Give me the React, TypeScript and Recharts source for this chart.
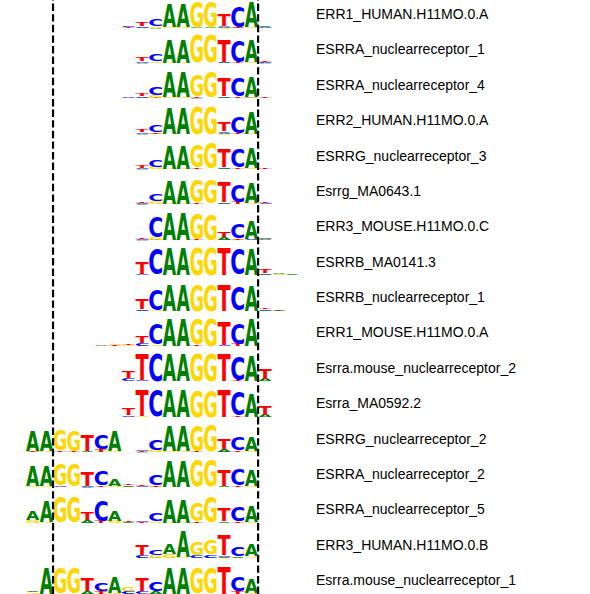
import React from 'react'
import { BarChart, Bar, XAxis, YAxis, ComposedChart, Line, ReferenceLine } from 'recharts'

// ── data: information content (bits) per position, columns are [A, C, G, T] ──

const LETTERS = ['A', 'C', 'G', 'T']
const POSITIONS = ['1', '2', '3', '4', '5', '6', '7', '8', '9', '10', '11', '12', '13', '14', '15', '16', '17', '18', '19', '20', '21']
const __ = [0, 0, 0, 0]

const MOTIF_NAMES = [
  'ERR1_HUMAN.H11MO.0.A',
  'ESRRA_nuclearreceptor_1',
  'ESRRA_nuclearreceptor_4',
  'ERR2_HUMAN.H11MO.0.A',
  'ESRRG_nuclearreceptor_3',
  'Esrrg_MA0643.1',
  'ERR3_MOUSE.H11MO.0.C',
  'ESRRB_MA0141.3',
  'ESRRB_nuclearreceptor_1',
  'ERR1_MOUSE.H11MO.0.A',
  'Esrra.mouse_nuclearreceptor_2',
  'Esrra_MA0592.2',
  'ESRRG_nuclearreceptor_2',
  'ESRRA_nuclearreceptor_2',
  'ESRRA_nuclearreceptor_5',
  'ERR3_HUMAN.H11MO.0.B',
  'Esrra.mouse_nuclearreceptor_1',
]

const ERR1_HUMAN_A = [
  __, __, __, __, __, __, __,
  [0.03, 0.07, 0.02, 0.05], [0.04, 0.1, 0.03, 0.3], [0.04, 0.45, 0.12, 0.02],
  [1.6, 0.02, 0.05, 0.02], [1.6, 0.02, 0.05, 0.02], [0.04, 0.02, 1.75, 0.02], [0.04, 0.02, 1.75, 0.02],
  [0.08, 0.06, 0.04, 0.8], [0.04, 1.4, 0.03, 0.05], [1.65, 0.02, 0.05, 0.02],
  [0.05, 0.04, 0.03, 0.02], [0.03, 0.02, 0.03, 0.02], [0.03, 0.02, 0.03, 0.02], [0.03, 0.02, 0.03, 0.02],
]
const ESRRA_NR_1 = [
  __, __, __, __, __, __, __,
  [0.02, 0.03, 0.02, 0.02], [0.04, 0.12, 0.02, 0.25], [0.03, 0.5, 0.12, 0.03],
  [1.63, 0.02, 0.04, 0.02], [1.63, 0.02, 0.04, 0.02], [0.03, 0.01, 1.9, 0.02], [0.03, 0.01, 1.9, 0.02],
  [0.06, 0.05, 0.03, 1.5], [0.03, 1.5, 0.02, 0.05], [1.55, 0.03, 0.05, 0.02],
  [0.04, 0.07, 0.02, 0.1], __, __, __,
]
const ESRRA_NR_4 = [
  __, __, __, __, __, __, __,
  [0.02, 0.04, 0.02, 0.02], [0.04, 0.1, 0.03, 0.2], [0.03, 0.55, 0.15, 0.04],
  [1.65, 0.02, 0.05, 0.02], [1.65, 0.02, 0.05, 0.02], [0.04, 0.02, 1.45, 0.08], [0.03, 0.02, 1.75, 0.03],
  [0.1, 0.05, 0.03, 1.25], [0.03, 1.25, 0.02, 0.12], [1.35, 0.04, 0.04, 0.02],
  [0.03, 0.02, 0.02, 0.1], __, __, __,
]
const ERR2_HUMAN_A = [
  __, __, __, __, __, __, __, __,
  [0.04, 0.1, 0.02, 0.2], [0.03, 0.48, 0.05, 0.08],
  [1.75, 0.01, 0.03, 0.01], [1.75, 0.01, 0.03, 0.01], [0.02, 0.01, 1.95, 0.01], [0.02, 0.01, 1.95, 0.01],
  [0.1, 0.08, 0.05, 0.6], [0.03, 1.15, 0.02, 0.08], [1.5, 0.02, 0.04, 0.02],
  __, __, __, __,
]
const ESRRG_NR_3 = [
  __, __, __, __, __, __, __, __,
  [0.04, 0.08, 0.02, 0.2], [0.03, 0.45, 0.15, 0.02],
  [1.6, 0.02, 0.04, 0.02], [1.6, 0.02, 0.04, 0.02], [0.03, 0.02, 1.6, 0.1], [0.03, 0.02, 1.75, 0.03],
  [0.1, 0.05, 0.03, 1.25], [0.03, 1.25, 0.02, 0.1], [1.3, 0.03, 0.05, 0.02],
  [0.02, 0.03, 0.02, 0.08], __, __, __,
]
const ESRRG_MA0643 = [
  __, __, __, __, __, __, __, __,
  [0.05, 0.08, 0.02, 0.12], [0.03, 0.5, 0.2, 0.02],
  [1.6, 0.02, 0.04, 0.02], [1.6, 0.02, 0.04, 0.02], [0.03, 0.02, 1.55, 0.1], [0.03, 0.02, 1.65, 0.03],
  [0.1, 0.04, 0.03, 1.3], [0.03, 1.2, 0.02, 0.15], [1.3, 0.03, 0.05, 0.02],
  [0.02, 0.06, 0.02, 0.08], __, __, __,
]
const ERR3_MOUSE_C = [
  __, __, __, __, __, __, __, __,
  [0.04, 0.06, 0.02, 0.08], [0.05, 1.4, 0.15, 0.03],
  [1.85, 0.01, 0.03, 0.01], [1.85, 0.01, 0.03, 0.01], [0.03, 0.01, 1.8, 0.05], [0.02, 0.01, 1.8, 0.02],
  [0.15, 0.05, 0.03, 0.35], [0.03, 1.0, 0.05, 0.1], [1.25, 0.05, 0.04, 0.02],
  [0.08, 0.12, 0.05, 0.02], __, __, __,
]
const ESRRB_MA0141 = [
  __, __, __, __, __, __, __, __,
  [0.03, 0.05, 0.02, 0.8], [0.02, 1.8, 0.02, 0.03],
  [1.88, 0.01, 0.02, 0.01], [1.88, 0.01, 0.02, 0.01], [0.01, 0.01, 1.9, 0.01], [0.01, 0.01, 1.9, 0.01],
  [0.02, 0.02, 0.01, 1.88], [0.02, 1.8, 0.01, 0.03], [1.8, 0.02, 0.02, 0.02],
  [0.12, 0.04, 0.03, 0.25], [0.08, 0.03, 0.05, 0.02], [0.05, 0.02, 0.03, 0.02], __,
]
const ESRRB_NR_1 = [
  __, __, __, __, __, __, __, __,
  [0.05, 0.1, 0.03, 0.7], [0.02, 1.4, 0.05, 0.03],
  [1.8, 0.01, 0.02, 0.01], [1.8, 0.01, 0.02, 0.01], [0.01, 0.01, 1.85, 0.01], [0.01, 0.01, 1.85, 0.01],
  [0.02, 0.02, 0.01, 1.8], [0.02, 1.7, 0.01, 0.03], [1.7, 0.02, 0.02, 0.02],
  [0.12, 0.05, 0.02, 0.12], [0.06, 0.02, 0.02, 0.04], [0.03, 0.02, 0.02, 0.02], __,
]
const ERR1_MOUSE_A = [
  __, __, __, __, __,
  [0.04, 0.02, 0.03, 0.02], [0.03, 0.02, 0.06, 0.04], [0.03, 0.03, 0.04, 0.05],
  [0.05, 0.2, 0.03, 0.4], [0.03, 1.35, 0.1, 0.02],
  [1.9, 0.01, 0.02, 0.01], [1.9, 0.01, 0.02, 0.01], [0.02, 0.01, 1.8, 0.1], [0.02, 0.01, 1.9, 0.02],
  [0.03, 0.1, 0.02, 1.6], [0.02, 1.35, 0.02, 0.15], [1.9, 0.01, 0.02, 0.01],
  __, __, __, __,
]
const ESRRA_MOUSE_NR_2 = [
  __, __, __, __, __, __, __,
  [0.03, 0.15, 0.05, 0.45], [0.02, 0.05, 0.02, 1.75], [0.02, 1.9, 0.01, 0.02],
  [1.85, 0.01, 0.03, 0.01], [1.85, 0.01, 0.03, 0.01], [0.01, 0.01, 1.9, 0.02], [0.01, 0.01, 1.9, 0.02],
  [0.02, 0.01, 0.01, 1.9], [0.02, 1.7, 0.01, 0.08], [1.7, 0.02, 0.03, 0.01],
  [0.15, 0.03, 0.02, 0.75], __, __, __,
]
const ESRRA_MA0592 = [
  __, __, __, __, __, __, __,
  [0.03, 0.1, 0.05, 0.4], [0.02, 0.03, 0.05, 1.75], [0.02, 1.85, 0.02, 0.02],
  [1.85, 0.01, 0.03, 0.01], [1.85, 0.01, 0.03, 0.01], [0.01, 0.01, 1.88, 0.02], [0.01, 0.01, 1.88, 0.02],
  [0.02, 0.01, 0.01, 1.85], [0.02, 1.65, 0.01, 0.1], [1.6, 0.02, 0.03, 0.01],
  [0.15, 0.03, 0.02, 0.65], __, __, __,
]
const ESRRG_NR_2 = [
  [1.3, 0.02, 0.05, 0.06], [1.35, 0.02, 0.05, 0.03], [0.03, 0.02, 1.35, 0.1], [0.03, 0.02, 1.4, 0.05],
  [0.05, 0.03, 0.02, 1.1], [0.03, 1.0, 0.05, 0.15], [1.35, 0.02, 0.05, 0.02],
  [0.03, 0.02, 0.02, 0.02], [0.04, 0.08, 0.02, 0.06], [0.03, 0.75, 0.15, 0.02],
  [1.65, 0.02, 0.05, 0.02], [1.65, 0.02, 0.05, 0.02], [0.03, 0.02, 1.8, 0.06], [0.03, 0.02, 1.85, 0.03],
  [0.15, 0.05, 0.03, 0.75], [0.03, 0.95, 0.02, 0.1], [1.0, 0.02, 0.1, 0.02],
  __, __, __, __,
]
const ESRRA_NR_2 = [
  [1.35, 0.02, 0.1, 0.02], [1.35, 0.02, 0.08, 0.02], [0.03, 0.08, 1.5, 0.03], [0.03, 0.03, 1.6, 0.03],
  [0.05, 0.05, 0.02, 0.95], [0.03, 1.05, 0.02, 0.1], [0.4, 0.02, 0.1, 0.03],
  [0.1, 0.02, 0.05, 0.1], [0.03, 0.05, 0.02, 0.08], [0.03, 0.75, 0.05, 0.12],
  [1.75, 0.02, 0.03, 0.02], [1.75, 0.02, 0.03, 0.02], [0.03, 0.02, 1.85, 0.03], [0.03, 0.02, 1.85, 0.03],
  [0.1, 0.03, 0.02, 1.05], [0.03, 1.1, 0.02, 0.12], [1.1, 0.02, 0.1, 0.02],
  __, __, __, __,
]
const ESRRA_NR_5 = [
  [0.65, 0.03, 0.2, 0.02], [1.45, 0.02, 0.05, 0.02], [0.03, 0.02, 1.75, 0.03], [0.03, 0.02, 1.75, 0.03],
  [0.2, 0.05, 0.03, 0.55], [0.03, 1.35, 0.02, 0.15], [0.75, 0.03, 0.15, 0.03],
  [0.05, 0.02, 0.02, 0.12], [0.03, 0.05, 0.02, 0.04], [0.03, 0.55, 0.1, 0.02],
  [1.6, 0.02, 0.04, 0.02], [1.6, 0.02, 0.04, 0.02], [0.03, 0.02, 1.3, 0.12], [0.03, 0.02, 1.75, 0.03],
  [0.12, 0.03, 0.02, 0.9], [0.03, 1.0, 0.02, 0.12], [1.05, 0.02, 0.05, 0.02],
  __, __, __, __,
]
const ERR3_HUMAN_B = [
  __, __, __, __, __, __, __, __,
  [0.05, 0.15, 0.03, 0.7], [0.05, 0.4, 0.15, 0.03],
  [0.7, 0.03, 0.25, 0.03], [1.75, 0.02, 0.05, 0.02], [0.05, 0.15, 0.9, 0.03], [0.05, 0.2, 1.05, 0.03],
  [0.1, 0.1, 0.05, 1.3], [0.1, 0.65, 0.05, 0.03], [0.8, 0.03, 0.1, 0.03],
  __, __, __, __,
]
const ESRRA_MOUSE_NR_1 = [
  [0.12, 0.02, 0.1, 0.05], [1.75, 0.02, 0.03, 0.02], [0.02, 0.02, 1.8, 0.02], [0.02, 0.02, 1.8, 0.02],
  [0.2, 0.03, 0.02, 0.85], [0.03, 0.55, 0.05, 0.2], [1.1, 0.02, 0.1, 0.02],
  [0.05, 0.15, 0.3, 0.03], [0.03, 0.2, 0.02, 0.85], [0.2, 0.65, 0.03, 0.02],
  [1.75, 0.02, 0.03, 0.02], [1.8, 0.02, 0.02, 0.02], [0.02, 0.02, 1.8, 0.02], [0.02, 0.02, 1.8, 0.02],
  [0.02, 0.02, 0.02, 1.85], [0.03, 1.0, 0.02, 0.2], [1.0, 0.02, 0.05, 0.02],
  __, __, __, __,
]

const MOTIFS = [
  ERR1_HUMAN_A, ESRRA_NR_1, ESRRA_NR_4, ERR2_HUMAN_A, ESRRG_NR_3, ESRRG_MA0643,
  ERR3_MOUSE_C, ESRRB_MA0141, ESRRB_NR_1, ERR1_MOUSE_A, ESRRA_MOUSE_NR_2, ESRRA_MA0592,
  ESRRG_NR_2, ESRRA_NR_2, ESRRA_NR_5, ERR3_HUMAN_B, ESRRA_MOUSE_NR_1,
]

// motif boundaries (between positions)
const BOUNDARIES = [1.5, 16.5]

// ── layout ──────────────────────────────────────────────────────────────

const W = 590
const H = 594
const LEFT = 25.7
const COL_W = 13.67
const RIGHT = W - LEFT - COL_W * POSITIONS.length
const PITCH = 35.375
const FIRST_BASE = 28.3
const Y_MAX = 2.4
const PX_PER_BIT = 14.5
const PLOT_H = Y_MAX * PX_PER_BIT
const ROW_H = 40

const COLORS: Record<string, string> = {
  A: '#008000',
  C: '#0000ff',
  G: '#ffd700',
  T: '#ff0000',
}

// ink box of DejaVu Sans Bold glyphs at font-size 100
const INK: Record<string, [number, number, number, number]> = {
  A: [1.0, 76.4, 0, 72.9],
  C: [4.6, 68.2, -1.4, 74.3],
  G: [4.6, 77.6, -1.4, 74.3],
  T: [0.3, 68.0, 0, 72.9],
}

function buildStack(motif: number[][]) {
  return POSITIONS.map((pos, i) => {
    const q = motif[i]
    const order = [0, 1, 2, 3].sort((a, b) => q[a] - q[b])
    const d: Record<string, string | number> = { pos }
    order.forEach((li, k) => {
      d[`h${k}`] = q[li]
      d[`l${k}`] = LETTERS[li]
    })
    return d
  })
}

function Glyph(props: any) {
  const { x, y, width, height, payload, slot } = props
  if (!height || height < 0.2) return <g />
  const letter = payload[`l${slot}`]
  const [x0, x1, yMin, yMax] = INK[letter]
  const sx = width / (x1 - x0)
  const sy = height / (yMax - yMin)
  const tx = x - x0 * sx
  const ty = y + yMax * sy
  return (
    <text
      transform={`translate(${tx},${ty}) scale(${sx},${sy})`}
      fontFamily="DejaVu Sans"
      fontWeight="bold"
      fontSize={100}
      fill={COLORS[letter]}
    >
      {letter}
    </text>
  )
}

function LogoRow({ motif, index }: { motif: number[][]; index: number }) {
  const top = FIRST_BASE + PITCH * index - PLOT_H
  return (
    <div style={{ position: 'absolute', left: 0, top, width: W, height: ROW_H }}>
      <BarChart
        width={W}
        height={ROW_H}
        data={buildStack(motif)}
        margin={{ top: 0, right: RIGHT, left: LEFT, bottom: ROW_H - PLOT_H }}
        barCategoryGap="4%"
      >
        <XAxis dataKey="pos" hide />
        <YAxis hide domain={[0, Y_MAX]} allowDataOverflow />
        {[0, 1, 2, 3].map((k) => (
          <Bar
            key={k}
            dataKey={`h${k}`}
            stackId="s"
            isAnimationActive={false}
            shape={(p: any) => <Glyph {...p} slot={k} />}
          />
        ))}
      </BarChart>
    </div>
  )
}

export default function App() {
  return (
    <div style={{ position: 'absolute', left: 0, top: 0, width: W, height: H, overflow: 'hidden', background: '#fff' }}>
      {MOTIFS.map((m, i) => (
        <LogoRow key={MOTIF_NAMES[i]} motif={m} index={i} />
      ))}
      <div style={{ position: 'absolute', left: 0, top: 0, pointerEvents: 'none' }}>
        <ComposedChart
          width={W}
          height={H}
          data={POSITIONS.map((p, i) => ({ x: i, y: 0 }))}
          margin={{ top: 0, right: RIGHT, left: LEFT, bottom: 0 }}
        >
          <XAxis dataKey="x" type="number" domain={[-0.5, POSITIONS.length - 0.5]} hide />
          <YAxis hide domain={[0, 1]} />
          <Line dataKey="y" stroke="none" dot={false} activeDot={false} isAnimationActive={false} />
          {BOUNDARIES.map((b) => (
            <ReferenceLine key={b} x={b} stroke="#000" strokeWidth={2.2} strokeDasharray="7.4 3.2" />
          ))}
        </ComposedChart>
      </div>
      {MOTIF_NAMES.map((name, i) => (
        <div
          key={name}
          style={{
            position: 'absolute',
            left: 316,
            top: 14 + PITCH * i - 8,
            lineHeight: '16px',
            fontSize: 14,
            fontFamily: '"Liberation Sans", Arial, sans-serif',
            color: '#000',
            whiteSpace: 'nowrap',
          }}
        >
          {name}
        </div>
      ))}
    </div>
  )
}
